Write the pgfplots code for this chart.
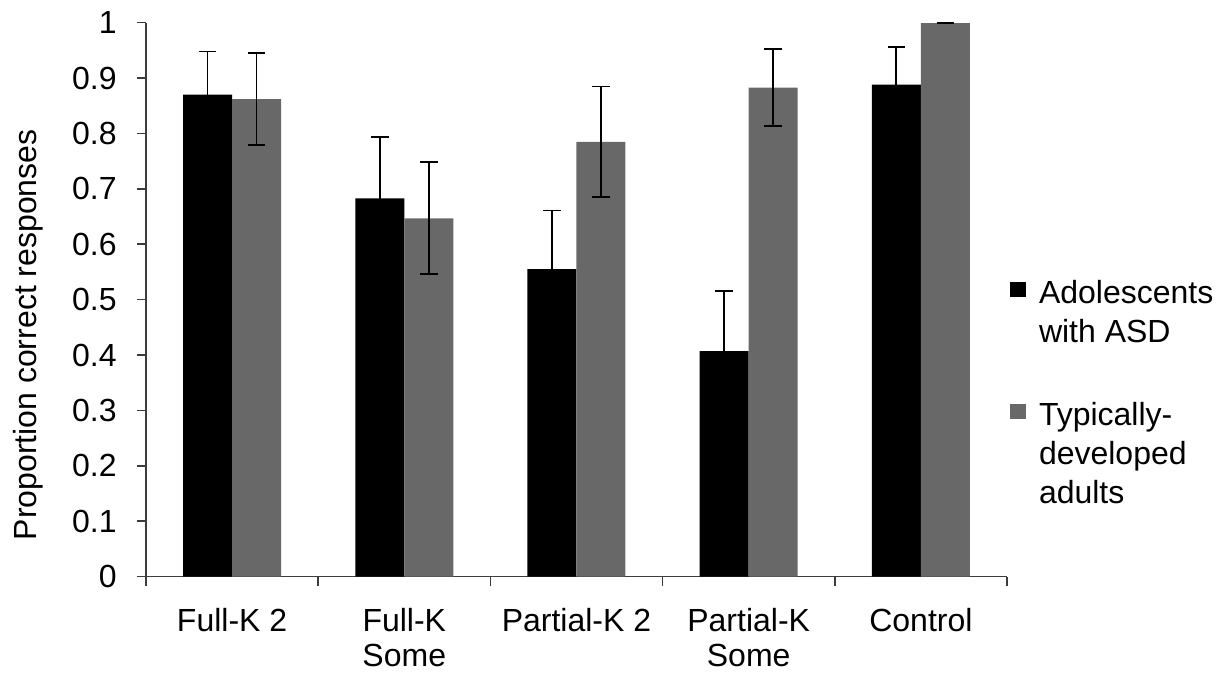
\documentclass[border=0pt]{standalone}
\usepackage{fontspec}
\setmainfont{Liberation Sans}
\usepackage{pgfplots}
\pgfplotsset{compat=1.18}
\definecolor{tdgray}{RGB}{104,104,104}
\definecolor{axgray}{RGB}{60,60,60}

\pgfplotstableread{
x  y      e
1  0.870  0.078
2  0.683  0.110
3  0.555  0.106
4  0.407  0.108
5  0.888  0.068
}\asd
\pgfplotstableread{
x  y      e
1  0.862  0.083
2  0.647  0.101
3  0.785  0.100
4  0.883  0.070
5  0.999  0.000
}\td

\begin{document}
\begin{tikzpicture}[font=\fontsize{16}{17.75}\selectfont]
\begin{axis}[
  scale only axis, width=430.5pt, height=277pt,
  xmin=0.5, xmax=5.5, ymin=0, ymax=1,
  axis x line*=bottom, axis y line*=left,
  axis line style={axgray, line width=0.8pt, -},
  tick style={axgray, line width=0.8pt},
  tick align=outside,
  tick label style={font=\fontsize{16}{17.75}\selectfont},
  label style={font=\fontsize{16}{17.75}\selectfont},
  xtick={1,2,3,4,5},
  xticklabels={Full-K 2, {Full-K\\Some}, Partial-K 2, {Partial-K\\Some}, Control},
  major x tick style={draw=none},
  minor xtick={0.5,1.5,2.5,3.5,4.5,5.5},
  minor tick length=4.5pt, major tick length=4.5pt,
  xticklabel style={anchor=north, inner sep=0pt, align=center, yshift=-11pt},
  ytick={0,0.1,0.2,0.3,0.4,0.5,0.6,0.7,0.8,0.9,1},
  yticklabel style={anchor=east, inner sep=0pt, xshift=-10pt},
  /pgf/number format/.cd, fixed, precision=1, assume math mode=true, /pgfplots/.cd,
  ylabel={Proportion correct responses},
  ylabel style={at={(axis description cs:-0.1365,0.4365)}, anchor=center, rotate=0},
  ybar=0pt, bar width=24.5pt,
  clip=false,
  legend style={draw=none, fill=none, at={(axis description cs:1.0035,0.5417)}, anchor=north west,
    inner sep=0pt, outer sep=0pt, row sep=44pt,
    cells={anchor=base west, inner sep=0pt, font=\fontsize{16}{19.5}\selectfont},
    /tikz/every odd column/.append style={column sep=4.5pt}},
  legend image code/.code={\fill[#1] (0pt,3.5pt) rectangle (8pt,11pt);},
]
\addplot[fill=black, draw=none,
  error bars/.cd, y dir=both, y explicit,
  error bar style={black, line width=0.9pt},
  error mark options={black, line width=0.9pt, mark size=4.4pt, rotate=90}]
  table[x=x, y=y, y error=e]{\asd};
\addlegendentry{\vtop{\hbox{Adolescents}\hbox{with ASD}}}
\addplot[fill=tdgray, draw=none,
  error bars/.cd, y dir=both, y explicit,
  error bar style={black, line width=0.9pt},
  error mark options={black, line width=0.9pt, mark size=4.4pt, rotate=90}]
  table[x=x, y=y, y error=e]{\td};
\addlegendentry{\vtop{\hbox{Typically-}\hbox{developed}\hbox{adults}}}
\end{axis}
\pgfresetboundingbox
\path[use as bounding box] (-73pt,-48.15pt) rectangle (538pt,288.35pt);
\end{tikzpicture}
\end{document}
